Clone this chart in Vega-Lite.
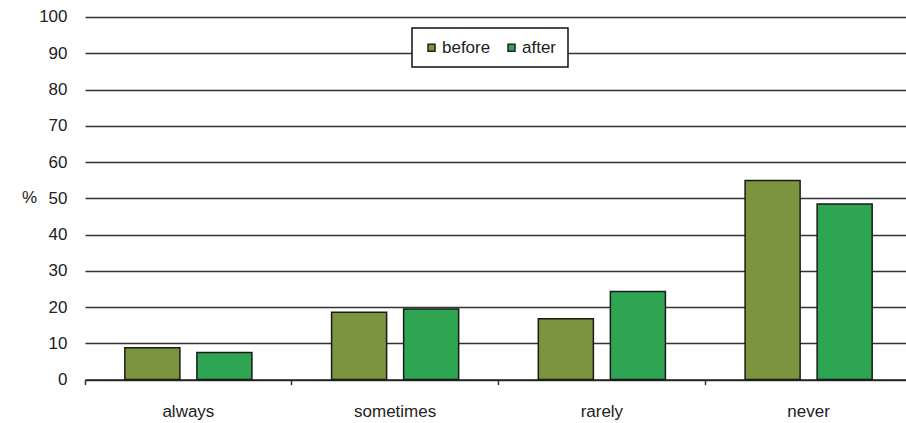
{
  "$schema": "https://vega.github.io/schema/vega-lite/v6.json",
  "width": 827,
  "height": 362.6,
  "autosize": {"type": "none"},
  "padding": {"left": 85, "top": 17, "right": 0, "bottom": 44},
  "background": "white",
  "config": {
    "view": {"stroke": null},
    "font": "Liberation Sans"
  },
  "data": {
    "values": [
      {"frequency": "always", "period": "before", "percent": 8.8},
      {"frequency": "always", "period": "after", "percent": 7.5},
      {"frequency": "sometimes", "period": "before", "percent": 18.6},
      {"frequency": "sometimes", "period": "after", "percent": 19.5},
      {"frequency": "rarely", "period": "before", "percent": 16.8},
      {"frequency": "rarely", "period": "after", "percent": 24.3},
      {"frequency": "never", "period": "before", "percent": 54.9},
      {"frequency": "never", "period": "after", "percent": 48.4}
    ]
  },
  "mark": {"type": "bar", "stroke": "#1a1a1a", "strokeWidth": 1.5},
  "encoding": {
    "x": {
      "field": "frequency",
      "type": "nominal",
      "sort": ["always", "sometimes", "rarely", "never"],
      "scale": {"paddingInner": 0, "paddingOuter": 0},
      "axis": {
        "title": null,
        "labelAngle": 0,
        "labelFontSize": 17,
        "labelColor": "#222",
        "labelPadding": 19,
        "domainColor": "#222",
        "domainWidth": 1.5,
        "ticks": true,
        "bandPosition": 0,
        "tickSize": 5,
        "tickColor": "#333",
        "tickWidth": 1.5,
        "grid": false
      }
    },
    "xOffset": {
      "field": "period",
      "type": "nominal",
      "sort": ["before", "after"],
      "scale": {"paddingInner": 0.236, "paddingOuter": 0.553}
    },
    "y": {
      "field": "percent",
      "type": "quantitative",
      "scale": {"domain": [0, 100], "nice": false},
      "axis": {
        "values": [0, 10, 20, 30, 40, 50, 60, 70, 80, 90, 100],
        "domain": false,
        "ticks": false,
        "grid": true,
        "gridColor": "#333",
        "gridWidth": 1.6,
        "labelFontSize": 17,
        "labelColor": "#222",
        "labelPadding": 18,
        "title": "%",
        "titleAngle": 0,
        "titleX": -56,
        "titleY": 181,
        "titleAlign": "center",
        "titleBaseline": "middle",
        "titleFontSize": 17,
        "titleFontWeight": "normal",
        "titleColor": "#222"
      }
    },
    "color": {
      "field": "period",
      "type": "nominal",
      "sort": ["before", "after"],
      "scale": {"domain": ["before", "after"], "range": ["#7A953D", "#2EA552"]},
      "legend": {
        "title": null,
        "orient": "none",
        "legendX": 327,
        "legendY": 11,
        "direction": "horizontal",
        "fillColor": "white",
        "strokeColor": "#111",
        "padding": 11,
        "symbolType": "square",
        "symbolSize": 49,
        "symbolStrokeColor": "#222",
        "symbolStrokeWidth": 1.5,
        "symbolOffset": 0,
        "labelFontSize": 17,
        "labelColor": "#222",
        "labelOffset": 2,
        "columnPadding": 12,
        "encode": {
          "legend": {"update": {"strokeWidth": {"value": 1.5}}}
        }
      }
    }
  }
}
